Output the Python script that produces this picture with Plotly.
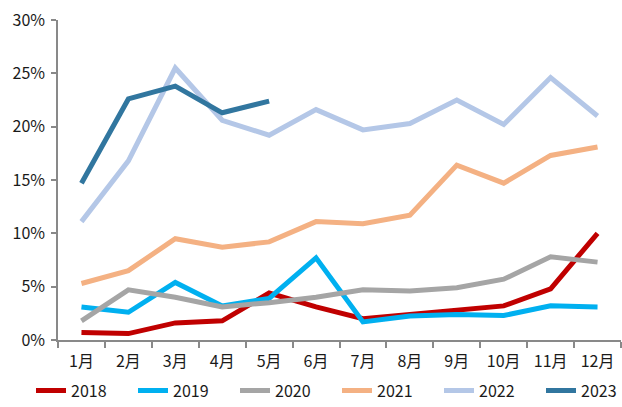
import plotly.graph_objects as go

months = ["1月", "2月", "3月", "4月", "5月", "6月", "7月", "8月", "9月", "10月", "11月", "12月"]
y2018 = [0.7, 0.6, 1.6, 1.8, 4.4, 3.1, 2.0, 2.4, 2.8, 3.2, 4.8, 10.0]
y2019 = [3.1, 2.6, 5.4, 3.2, 3.9, 7.7, 1.7, 2.25, 2.4, 2.3, 3.2, 3.1]
y2020 = [1.8, 4.7, 4.0, 3.1, 3.5, 4.0, 4.7, 4.6, 4.9, 5.7, 7.8, 7.3]
y2021 = [5.3, 6.5, 9.5, 8.7, 9.2, 11.1, 10.9, 11.7, 16.4, 14.7, 17.3, 18.1]
y2022 = [11.1, 16.8, 25.5, 20.6, 19.2, 21.6, 19.7, 20.3, 22.5, 20.2, 24.6, 21.0]
y2023 = [14.7, 22.6, 23.8, 21.3, 22.4]

series = [
    ("2018", y2018, "#C00000"),
    ("2019", y2019, "#00B0F0"),
    ("2020", y2020, "#A5A5A5"),
    ("2021", y2021, "#F4B183"),
    ("2022", y2022, "#B4C7E7"),
    ("2023", y2023, "#31769F"),
]

fig = go.Figure()
for name, vals, color in series:
    fig.add_trace(go.Scatter(
        x=months[:len(vals)], y=[v / 100 for v in vals], name=name, mode="lines",
        line=dict(color=color, width=5),
    ))

font = dict(family="Noto Sans CJK SC, sans-serif", size=16, color="#1a1a1a")
fig.update_layout(
    width=622, height=407,
    margin=dict(l=58, r=1, t=20, b=67, autoexpand=False),
    paper_bgcolor="white", plot_bgcolor="white",
    font=font,
    showlegend=True,
    legend=dict(orientation="h", x=(31 - 58) / 563, xanchor="left", y=-0.105, yanchor="top",
                entrywidth=57, entrywidthmode="pixels", font=font,
                itemwidth=30, tracegroupgap=0, bgcolor="rgba(0,0,0,0)"),
    xaxis=dict(type="category", categoryorder="array", categoryarray=months,
               range=[-0.5, 11.5], showgrid=False, showline=True, linecolor="#898989",
               linewidth=1.5, ticks="outside", tickson="boundaries", ticklen=6,
               tickcolor="#898989", tickwidth=1.5, ticklabelstandoff=6, automargin=False),
    yaxis=dict(range=[0, 0.30], tickvals=[0, 0.05, 0.10, 0.15, 0.20, 0.25, 0.30],
               tickformat=".0%", showgrid=False, showline=True, linecolor="#898989",
               linewidth=1.5, ticks="outside", ticklen=5, tickcolor="#898989",
               tickwidth=1.5, zeroline=False, ticklabelstandoff=3, automargin=False),
)
fig.write_html("out.html", config={"displayModeBar": False},
               post_script="document.body.style.margin='0';")
